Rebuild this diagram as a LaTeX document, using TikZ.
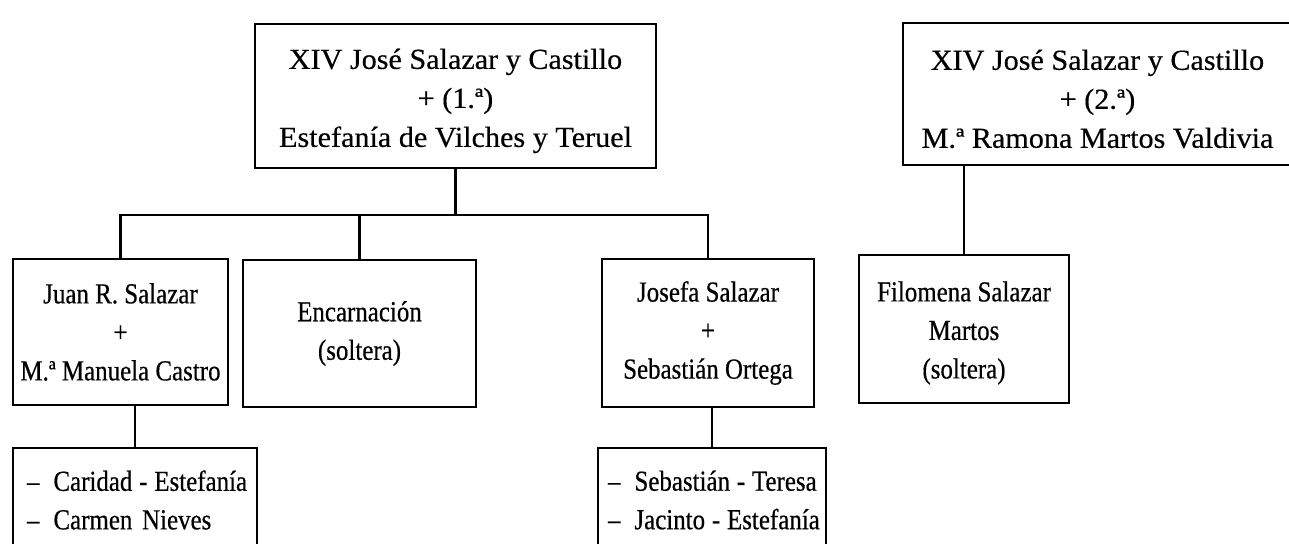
\documentclass[tikz,border=0pt]{standalone}
\usepackage{fontspec}
\setmainfont{Liberation Serif}
\newfontfamily\widefont[FakeStretch=1.04,FakeBold=0.4]{Liberation Serif}
\newfontfamily\narrowfont[FakeStretch=0.86,FakeBold=0.5]{Liberation Serif}
\newcommand{\gapdash}{\hspace{7pt}}
\newcommand{\gaphy}{\hspace{3.4pt}-\hspace{3.4pt}}
\begin{document}
\begin{tikzpicture}[x=0.5pt,y=-0.5pt, line width=1.3pt,
  box/.style={draw, rectangle, inner sep=0pt, align=center, font=\narrowfont\fontsize{14.5}{19.25}\selectfont},
  topbox/.style={box, font=\widefont\fontsize{14.5}{19.5}\selectfont},
  list/.style={box, align=left}]
\useasboundingbox (0,0) rectangle (1289,543);
\clip (0,0) rectangle (1289,543);
\node[topbox, minimum width=200.5pt, minimum height=72pt] (A) at (455.5,96)
  {\rule{0pt}{15pt}XIV José Salazar y Castillo\\+ (1.ª)\\Estefanía de Vilches y Teruel};
\node[topbox, minimum width=194.5pt, minimum height=71pt] (B) at (1097.5,94)
  {\rule{0pt}{15pt}XIV José Salazar y Castillo\\+ (2.ª)\\M.ª Ramona Martos Valdivia};
\node[box, minimum width=107.5pt, minimum height=73pt] (C) at (120.5,332)
  {Juan R. Salazar\\+\\M.ª Manuela Castro};
\node[box, minimum width=116.5pt, minimum height=73.5pt] (D) at (359.5,333.5)
  {Encarnación\\(soltera)};
\node[box, minimum width=106pt, minimum height=74pt] (E) at (708,333)
  {Josefa Salazar\\+\\Sebastián Ortega};
\node[box, minimum width=105pt, minimum height=74pt] (F) at (964,329)
  {\rule{0pt}{14pt}Filomena Salazar\\Martos\\(soltera)};
\node[list, minimum width=122pt, minimum height=52pt, inner xsep=7pt, text width=108pt] (G) at (135,500)
  {\mbox{–\gapdash Caridad\gaphy Estefanía}\\\mbox{–\gapdash Carmen Nieves}};
\node[list, minimum width=114pt, minimum height=52pt, inner xsep=5pt, text width=104pt] (H) at (712,500)
  {\mbox{–\gapdash Sebastián\gaphy Teresa}\\\mbox{–\gapdash Jacinto\gaphy Estefanía}};
\coordinate (bar) at (453,215);
\draw (A.south) -- (A.south |- bar);
\draw (C.north) -- (C.north |- bar) -- (E.north |- bar) -- (E.north);
\draw (D.north) -- (D.north |- bar);
\draw (F.north) -- (F.north |- B.south);
\draw (G.north) -- (G.north |- C.south);
\draw (H.north) -- (H.north |- E.south);
\end{tikzpicture}
\end{document}
